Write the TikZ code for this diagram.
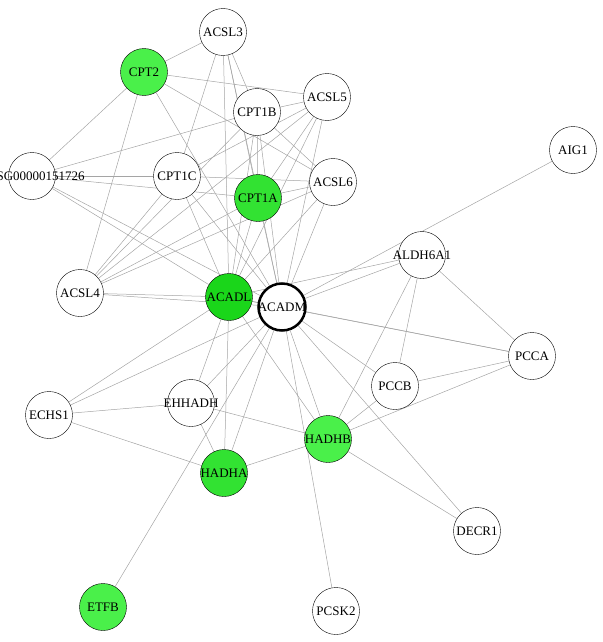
\documentclass[tikz,border=0pt]{standalone}
\usepackage{fontspec}
\setmainfont{Liberation Serif}
\usetikzlibrary{backgrounds}
\definecolor{gronljus}{RGB}{74,240,74}
\definecolor{gronmellan}{RGB}{50,226,50}
\definecolor{gronmork}{RGB}{26,214,26}
\definecolor{kant}{RGB}{165,165,165}
\newcommand{\etikett}[1]{\makebox[0pt]{#1}}

\begin{document}
\begin{tikzpicture}[x=1pt,y=-1pt,
  gen/.style={circle,draw,thin,fill=white,minimum size=47pt,inner sep=0pt,
    font=\fontsize{13}{14}\selectfont},
  edge/.style={draw=kant,line width=0.5pt}]
  \useasboundingbox (0,0) rectangle (602,642);
  % Noder
  \node[gen] (acsl3) at (223,32) {\etikett{ACSL3}};
  \node[gen,fill=gronljus] (cpt2) at (144,72) {\etikett{CPT2}};
  \node[gen] (cpt1b) at (257,112) {\etikett{CPT1B}};
  \node[gen] (acsl5) at (327,97) {\etikett{ACSL5}};
  \node[gen] (aig1) at (573,150) {\etikett{AIG1}};
  \node[gen] (ensg) at (32,176) {\etikett{ENSG00000151726}};
  \node[gen] (cpt1c) at (177,176) {\etikett{CPT1C}};
  \node[gen,fill=gronmellan] (cpt1a) at (258,198) {\etikett{CPT1A}};
  \node[gen] (acsl6) at (333,182) {\etikett{ACSL6}};
  \node[gen] (aldh) at (422,255) {\etikett{ALDH6A1}};
  \node[gen] (acsl4) at (80,293) {\etikett{ACSL4}};
  \node[gen,fill=gronmork] (acadl) at (229,297) {\etikett{ACADL}};
  \node[gen,line width=2.5pt] (acadm) at (282,307) {\etikett{ACADM}};
  \node[gen] (pcca) at (532,356) {\etikett{PCCA}};
  \node[gen] (pccb) at (395,386) {\etikett{PCCB}};
  \node[gen] (echs1) at (49,415) {\etikett{ECHS1}};
  \node[gen] (ehhadh) at (191,403) {\etikett{EHHADH}};
  \node[gen,fill=gronljus] (hadhb) at (328,439) {\etikett{HADHB}};
  \node[gen,fill=gronmellan] (hadha) at (224,473) {\etikett{HADHA}};
  \node[gen] (decr1) at (477,531) {\etikett{DECR1}};
  \node[gen,fill=gronljus] (etfb) at (103,607) {\etikett{ETFB}};
  \node[gen] (pcsk2) at (336,611) {\etikett{PCSK2}};
  % Kanter
  \begin{pgfonlayer}{background}
  \foreach \b in {acsl3,cpt2,cpt1b,acsl5,aig1,ensg,cpt1c,cpt1a,acsl6,aldh,acsl4,
      acadl,pcca,pccb,echs1,ehhadh,hadhb,hadha,decr1,etfb,pcsk2}
    \draw[edge] (acadm) -- (\b);
  \foreach \b in {acsl3,cpt1b,acsl5,ensg,cpt1c,cpt1a,acsl6,aldh,acsl4,pcca,
      echs1,ehhadh,hadha,hadhb}
    \draw[edge] (acadl) -- (\b);
  \foreach \a/\b in {cpt2/acsl3,cpt2/acsl5,cpt2/acsl6,cpt2/ensg,cpt2/acsl4,
      cpt1b/acsl3,cpt1b/acsl5,cpt1b/ensg,cpt1b/acsl4,cpt1b/cpt1a,cpt1b/acsl6,
      cpt1c/ensg,cpt1c/acsl3,cpt1c/acsl5,cpt1c/acsl6,cpt1c/acsl4,
      cpt1a/ensg,cpt1a/acsl3,cpt1a/acsl5,cpt1a/acsl6,cpt1a/acsl4,
      acsl4/acsl5,acsl4/acsl6,
      echs1/ehhadh,echs1/hadha,ehhadh/hadhb,ehhadh/hadha,hadha/hadhb,
      hadhb/pccb,hadhb/pcca,hadhb/aldh,hadhb/decr1,
      pcca/aldh,pcca/pccb,pccb/aldh}
    \draw[edge] (\a) -- (\b);
  \end{pgfonlayer}
\end{tikzpicture}
\end{document}
